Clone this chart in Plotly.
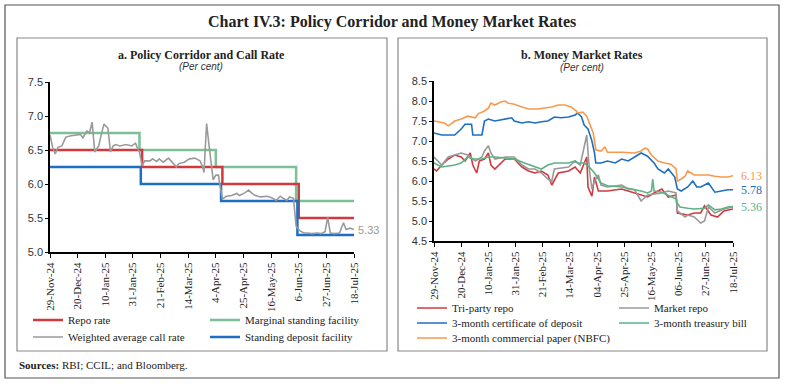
import plotly.graph_objects as go

W, H = 785, 386
def px(x): return x / W
def py(y): return 1 - y / H

SERIF = "Liberation Serif"
SANS = "Liberation Sans"

# ---------------- Data: panel a ----------------
repo_dates = ["2024-11-29", "2025-02-07", "2025-04-09", "2025-06-06", "2025-07-18"]
repo_vals = [6.50, 6.25, 6.00, 5.50, 5.50]
msf_dates = ["2024-11-29", "2025-02-05", "2025-04-04", "2025-06-04", "2025-07-18"]
msf_vals = [6.75, 6.50, 6.25, 5.75, 5.75]
sdf_dates = ["2024-11-29", "2025-02-06", "2025-04-08", "2025-06-05", "2025-07-18"]
sdf_vals = [6.25, 6.00, 5.75, 5.25, 5.25]

wacr_dates = ["2024-11-29", "2024-12-01", "2024-12-03", "2024-12-05", "2024-12-08", "2024-12-10",
              "2024-12-11", "2024-12-15", "2024-12-18", "2024-12-22", "2024-12-24", "2024-12-27",
              "2024-12-29", "2024-12-31", "2025-01-02", "2025-01-05", "2025-01-07", "2025-01-09",
              "2025-01-12", "2025-01-14", "2025-01-16", "2025-01-18", "2025-01-21", "2025-01-26",
              "2025-01-30", "2025-02-02", "2025-02-03", "2025-02-05", "2025-02-07", "2025-02-09",
              "2025-02-13", "2025-02-15", "2025-02-18", "2025-02-20", "2025-02-23", "2025-02-27",
              "2025-03-01", "2025-03-05", "2025-03-07", "2025-03-11", "2025-03-15", "2025-03-19",
              "2025-03-23", "2025-03-25", "2025-03-26", "2025-03-28", "2025-03-30", "2025-03-31",
              "2025-04-02", "2025-04-04", "2025-04-06", "2025-04-07", "2025-04-09", "2025-04-12",
              "2025-04-16", "2025-04-20", "2025-04-22", "2025-04-26", "2025-04-29", "2025-05-01",
              "2025-05-04", "2025-05-08", "2025-05-13", "2025-05-16", "2025-05-20", "2025-05-23",
              "2025-05-25", "2025-05-28", "2025-05-30", "2025-06-02", "2025-06-04", "2025-06-07",
              "2025-06-10", "2025-06-12", "2025-06-16", "2025-06-20", "2025-06-23", "2025-06-26",
              "2025-06-28", "2025-06-30", "2025-07-03", "2025-07-07", "2025-07-10", "2025-07-12",
              "2025-07-15", "2025-07-18"]
wacr_vals = [6.72, 6.54, 6.44, 6.54, 6.56, 6.64,
             6.69, 6.71, 6.72, 6.73, 6.68, 6.78,
             6.75, 6.91, 6.47, 6.56, 6.73, 6.88,
             6.82, 6.47, 6.56, 6.58, 6.56, 6.58,
             6.56, 6.60, 6.55, 6.47, 6.27, 6.34,
             6.34, 6.37, 6.33, 6.37, 6.32, 6.38,
             6.34, 6.25, 6.30, 6.32, 6.37, 6.38,
             6.34, 6.25, 6.17, 6.89, 6.54, 6.40,
             6.06, 6.13, 6.13, 6.00, 5.78, 5.82,
             5.83, 5.86, 5.83, 5.87, 5.91, 5.87,
             5.83, 5.81, 5.82, 5.80, 5.76, 5.82,
             5.79, 5.76, 5.81, 5.79, 5.38, 5.31,
             5.28, 5.28, 5.27, 5.28, 5.27, 5.30,
             5.51, 5.28, 5.27, 5.28, 5.43, 5.33,
             5.35, 5.33]

# ---------------- Data: panel b ----------------
cp_dates = ["2024-11-29", "2024-12-07", "2024-12-10", "2024-12-15", "2024-12-20", "2024-12-25",
            "2024-12-31", "2025-01-02", "2025-01-07", "2025-01-10", "2025-01-12", "2025-01-15",
            "2025-01-20", "2025-01-23", "2025-01-25", "2025-01-30", "2025-02-05", "2025-02-10",
            "2025-02-17", "2025-02-23", "2025-02-28", "2025-03-05", "2025-03-10", "2025-03-15",
            "2025-03-19", "2025-03-20", "2025-03-24", "2025-03-27", "2025-03-29", "2025-04-01",
            "2025-04-02", "2025-04-03", "2025-04-07", "2025-04-10", "2025-04-12", "2025-04-23",
            "2025-05-03", "2025-05-08", "2025-05-11", "2025-05-13", "2025-05-16", "2025-05-21",
            "2025-05-26", "2025-05-31", "2025-06-04", "2025-06-05", "2025-06-08", "2025-06-11",
            "2025-06-13", "2025-06-16", "2025-06-18", "2025-06-23", "2025-06-29", "2025-07-04",
            "2025-07-09", "2025-07-14", "2025-07-18"]
cp_vals = [7.50, 7.45, 7.38, 7.50, 7.55, 7.62,
           7.58, 7.68, 7.75, 7.82, 7.95, 7.90,
           7.98, 8.00, 7.95, 7.92, 7.85, 7.80,
           7.80, 7.82, 7.85, 7.90, 7.90, 7.85,
           7.75, 7.70, 7.72, 7.62, 7.45, 7.20,
           7.00, 6.78, 6.75, 6.85, 6.72, 6.72,
           6.70, 6.75, 6.82, 6.80, 6.65, 6.50,
           6.45, 6.42, 6.30, 6.00, 6.05, 6.12,
           6.25, 6.20, 6.15, 6.15, 6.15, 6.12,
           6.10, 6.10, 6.13]

cd_dates = ["2024-11-29", "2024-12-05", "2024-12-15", "2024-12-20", "2024-12-23", "2024-12-28",
            "2024-12-29", "2025-01-05", "2025-01-07", "2025-01-10", "2025-01-15", "2025-01-25",
            "2025-01-28", "2025-01-30", "2025-02-05", "2025-02-10", "2025-02-15", "2025-02-20",
            "2025-02-25", "2025-03-02", "2025-03-07", "2025-03-13", "2025-03-18", "2025-03-20",
            "2025-03-23", "2025-03-25", "2025-03-28", "2025-03-31", "2025-04-02", "2025-04-03",
            "2025-04-07", "2025-04-12", "2025-04-18", "2025-04-23", "2025-04-28", "2025-05-03",
            "2025-05-08", "2025-05-13", "2025-05-18", "2025-05-21", "2025-05-26", "2025-05-29",
            "2025-06-03", "2025-06-05", "2025-06-08", "2025-06-13", "2025-06-17", "2025-06-20",
            "2025-06-23", "2025-06-29", "2025-07-01", "2025-07-04", "2025-07-09", "2025-07-14",
            "2025-07-18"]
cd_vals = [7.20, 7.15, 7.15, 7.30, 7.42, 7.42,
           7.15, 7.15, 7.50, 7.55, 7.50, 7.55,
           7.58, 7.50, 7.45, 7.48, 7.45, 7.48,
           7.50, 7.60, 7.58, 7.60, 7.65, 7.70,
           7.60, 7.40, 7.30, 7.00, 6.70, 6.45,
           6.45, 6.50, 6.45, 6.55, 6.50, 6.60,
           6.70, 6.62, 6.45, 6.30, 6.20, 6.30,
           6.10, 5.80, 5.75, 5.85, 6.00, 5.85,
           5.85, 5.95, 5.85, 5.72, 5.75, 5.78,
           5.78]

tb_dates = ["2024-11-29", "2024-12-05", "2024-12-15", "2024-12-20", "2024-12-25", "2024-12-29",
            "2025-01-05", "2025-01-10", "2025-01-15", "2025-01-23", "2025-01-30", "2025-02-07",
            "2025-02-15", "2025-02-20", "2025-02-25", "2025-03-02", "2025-03-13", "2025-03-18",
            "2025-03-20", "2025-03-25", "2025-03-29", "2025-04-02", "2025-04-07", "2025-04-12",
            "2025-04-23", "2025-04-28", "2025-05-03", "2025-05-08", "2025-05-13", "2025-05-16",
            "2025-05-17", "2025-05-18", "2025-05-24", "2025-05-29", "2025-06-04", "2025-06-05",
            "2025-06-07", "2025-06-13", "2025-06-18", "2025-06-26", "2025-06-29", "2025-07-04",
            "2025-07-09", "2025-07-14", "2025-07-18"]
tb_vals = [6.45, 6.35, 6.40, 6.45, 6.60, 6.55,
           6.55, 6.60, 6.60, 6.58, 6.55, 6.45,
           6.35, 6.30, 6.40, 6.45, 6.45, 6.50,
           6.45, 6.45, 6.35, 6.20, 5.95, 5.88,
           5.85, 5.82, 5.78, 5.75, 5.70, 5.75,
           6.05, 5.75, 5.72, 5.65, 5.55, 5.45,
           5.35, 5.32, 5.30, 5.32, 5.40, 5.28,
           5.30, 5.35, 5.36]

tri_dates = ["2024-11-29", "2024-12-01", "2024-12-05", "2024-12-10", "2024-12-15", "2024-12-20",
             "2024-12-23", "2024-12-27", "2024-12-29", "2025-01-01", "2025-01-03", "2025-01-07",
             "2025-01-10", "2025-01-12", "2025-01-15", "2025-01-23", "2025-01-30", "2025-02-05",
             "2025-02-10", "2025-02-15", "2025-02-20", "2025-02-25", "2025-02-28", "2025-03-05",
             "2025-03-13", "2025-03-18", "2025-03-22", "2025-03-27", "2025-03-28", "2025-03-31",
             "2025-04-02", "2025-04-05", "2025-04-12", "2025-04-23", "2025-04-28", "2025-05-08",
             "2025-05-13", "2025-05-18", "2025-05-24", "2025-05-29", "2025-06-04", "2025-06-05",
             "2025-06-13", "2025-06-18", "2025-06-23", "2025-06-26", "2025-07-01", "2025-07-06",
             "2025-07-11", "2025-07-18"]
tri_vals = [6.30, 6.25, 6.40, 6.55, 6.65, 6.60,
            6.50, 6.70, 6.40, 6.20, 6.50, 6.55,
            6.70, 6.40, 6.30, 6.55, 6.55, 6.35,
            6.25, 6.20, 6.25, 6.15, 5.90, 6.20,
            6.25, 6.35, 6.20, 6.60, 5.85, 5.62,
            6.10, 5.75, 5.75, 5.80, 5.75, 5.65,
            5.60, 5.70, 5.80, 5.60, 5.65, 5.20,
            5.15, 5.20, 5.20, 5.38, 5.15, 5.10,
            5.25, 5.30]

mkt_dates = ["2024-11-29", "2024-12-05", "2024-12-10", "2024-12-15", "2024-12-20", "2024-12-25",
             "2024-12-31", "2025-01-05", "2025-01-07", "2025-01-10", "2025-01-12", "2025-01-15",
             "2025-01-23", "2025-01-30", "2025-02-05", "2025-02-10", "2025-02-15", "2025-02-20",
             "2025-02-25", "2025-02-28", "2025-03-02", "2025-03-13", "2025-03-18", "2025-03-22",
             "2025-03-27", "2025-03-29", "2025-03-31", "2025-04-02", "2025-04-05", "2025-04-07",
             "2025-04-12", "2025-04-23", "2025-04-28", "2025-05-03", "2025-05-08", "2025-05-13",
             "2025-05-24", "2025-05-29", "2025-06-04", "2025-06-05", "2025-06-11", "2025-06-13",
             "2025-06-18", "2025-06-23", "2025-06-26", "2025-06-29", "2025-07-04", "2025-07-11",
             "2025-07-18"]
mkt_vals = [6.60, 6.40, 6.60, 6.65, 6.70, 6.65,
            6.50, 6.60, 6.75, 6.88, 6.70, 6.55,
            6.60, 6.60, 6.40, 6.30, 6.30, 6.20,
            6.05, 6.00, 6.30, 6.35, 6.50, 6.40,
            7.15, 6.30, 5.80, 6.00, 6.15, 5.90,
            5.85, 5.90, 5.80, 5.78, 5.50, 5.65,
            5.70, 5.75, 5.70, 5.25, 5.10, 5.15,
            5.10, 4.95, 5.00, 5.35, 5.20, 5.30,
            5.35]

tick_dates = ["2024-11-29", "2024-12-20", "2025-01-10", "2025-01-31", "2025-02-21", "2025-03-14",
              "2025-04-04", "2025-04-25", "2025-05-16", "2025-06-06", "2025-06-27", "2025-07-18"]
ticks_a = ["29-Nov-24", "20-Dec-24", "10-Jan-25", "31-Jan-25", "21-Feb-25", "14-Mar-25",
           "4-Apr-25", "25-Apr-25", "16-May-25", "6-Jun-25", "27-Jun-25", "18-Jul-25"]
ticks_b = ["29-Nov-24", "20-Dec-24", "10-Jan-25", "31-Jan-25", "21-Feb-25", "14-Mar-25",
           "04-Apr-25", "25-Apr-25", "16-May-25", "06-Jun-25", "27-Jun-25", "18-Jul-25"]

RED = "#D2393F"
GREEN = "#7CC196"
BLUE = "#1E6FC2"
GRAY = "#9A9A9A"
ORANGE = "#F79A4E"
GREEN_B = "#5DB383"

fig = go.Figure()

# Panel a
fig.add_trace(go.Scatter(x=msf_dates, y=msf_vals, mode="lines", line_shape="hv",
                         line=dict(color=GREEN, width=2.5), name="Marginal standing facility",
                         xaxis="x", yaxis="y", legend="legend2"))
fig.add_trace(go.Scatter(x=repo_dates, y=repo_vals, mode="lines", line_shape="hv",
                         line=dict(color=RED, width=2.5), name="Repo rate",
                         xaxis="x", yaxis="y", legend="legend"))
fig.add_trace(go.Scatter(x=sdf_dates, y=sdf_vals, mode="lines", line_shape="hv",
                         line=dict(color=BLUE, width=2.5), name="Standing deposit facility",
                         xaxis="x", yaxis="y", legend="legend4"))
fig.add_trace(go.Scatter(x=wacr_dates, y=wacr_vals, mode="lines",
                         line=dict(color=GRAY, width=1.6), name="Weighted average call rate",
                         xaxis="x", yaxis="y", legend="legend3"))

# Panel b
fig.add_trace(go.Scatter(x=tri_dates, y=tri_vals, mode="lines",
                         line=dict(color=RED, width=1.6), name="Tri-party repo",
                         xaxis="x2", yaxis="y2", legend="legend5"))
fig.add_trace(go.Scatter(x=mkt_dates, y=mkt_vals, mode="lines",
                         line=dict(color=GRAY, width=1.6), name="Market repo",
                         xaxis="x2", yaxis="y2", legend="legend6"))
fig.add_trace(go.Scatter(x=tb_dates, y=tb_vals, mode="lines",
                         line=dict(color=GREEN_B, width=1.6), name="3-month treasury bill",
                         xaxis="x2", yaxis="y2", legend="legend8"))
fig.add_trace(go.Scatter(x=cd_dates, y=cd_vals, mode="lines",
                         line=dict(color=BLUE, width=1.6), name="3-month certificate of deposit",
                         xaxis="x2", yaxis="y2", legend="legend7"))
fig.add_trace(go.Scatter(x=cp_dates, y=cp_vals, mode="lines",
                         line=dict(color=ORANGE, width=1.6), name="3-month commercial paper (NBFC)",
                         xaxis="x2", yaxis="y2", legend="legend9"))

xcommon = dict(type="date", range=["2024-11-29", "2025-07-18"], showgrid=False, zeroline=False,
               showline=True, linecolor="black", linewidth=2, ticks="outside", ticklen=4,
               tickcolor="black", tickwidth=1, tickangle=-90, tickvals=tick_dates,
               automargin=False, tickfont=dict(family=SERIF, size=11, color="#222"))
ycommon = dict(showgrid=False, zeroline=False, showline=True, linecolor="black", linewidth=1.5,
               ticks="outside", ticklen=3, tickcolor="black", dtick=0.5, tickformat=".1f",
               automargin=False, tickfont=dict(family=SANS, size=11, color="#333"))

fig.update_layout(
    xaxis=dict(xcommon, domain=[px(50), px(354)], ticktext=ticks_a, anchor="y"),
    yaxis=dict(ycommon, domain=[py(252), py(82)], range=[5.0, 7.5], anchor="x"),
    xaxis2=dict(xcommon, domain=[px(434), px(733)], ticktext=ticks_b, anchor="y2"),
    yaxis2=dict(ycommon, domain=[py(241), py(81)], range=[4.5, 8.5], anchor="x2"),
)

leg = dict(orientation="h", xanchor="left", yanchor="middle", bgcolor="rgba(0,0,0,0)",
           font=dict(family=SERIF, size=11, color="#222"), itemwidth=30)
# one legend per entry, placed like the original's two-column key
leg_pos = {
    "legend": (28, 320), "legend2": (205, 320),
    "legend3": (28, 337), "legend4": (205, 337),
    "legend5": (412, 308), "legend6": (614, 308),
    "legend7": (412, 323), "legend8": (614, 323),
    "legend9": (412, 338),
}
fig.update_layout(showlegend=True,
                  **{k: dict(leg, x=px(v[0]), y=py(v[1])) for k, v in leg_pos.items()})

shapes = [
    dict(type="rect", xref="paper", yref="paper", x0=px(5), x1=px(779), y0=py(378), y1=py(5),
         line=dict(color="#555", width=1.2)),
    dict(type="rect", xref="paper", yref="paper", x0=px(17), x1=px(387), y0=py(351), y1=py(38),
         line=dict(color="#888", width=1.2)),
    dict(type="rect", xref="paper", yref="paper", x0=px(398), x1=px(767), y0=py(351), y1=py(38),
         line=dict(color="#888", width=1.2)),
]

annotations = [
    dict(text="<b>Chart IV.3: Policy Corridor and Money Market Rates</b>", x=px(392), y=py(22),
         xref="paper", yref="paper", showarrow=False, xanchor="center", yanchor="middle",
         font=dict(family=SERIF, size=16, color="#222")),
    dict(text="<b>a. Policy Corridor and Call Rate</b>", x=px(201), y=py(55),
         xref="paper", yref="paper", showarrow=False, xanchor="center", yanchor="middle",
         font=dict(family=SERIF, size=12, color="#222")),
    dict(text="<i>(Per cent)</i>", x=px(201), y=py(67), xref="paper", yref="paper",
         showarrow=False, xanchor="center", yanchor="middle",
         font=dict(family=SANS, size=10, color="#333")),
    dict(text="<b>b. Money Market Rates</b>", x=px(582), y=py(55),
         xref="paper", yref="paper", showarrow=False, xanchor="center", yanchor="middle",
         font=dict(family=SERIF, size=12, color="#222")),
    dict(text="<i>(Per cent)</i>", x=px(582), y=py(68), xref="paper", yref="paper",
         showarrow=False, xanchor="center", yanchor="middle",
         font=dict(family=SANS, size=10, color="#333")),
    dict(text="<b>Sources:</b> RBI; CCIL; and Bloomberg.", x=px(17), y=py(365),
         xref="paper", yref="paper", showarrow=False, xanchor="left", yanchor="middle",
         font=dict(family=SERIF, size=11, color="#222")),
    # end labels
    dict(text=f"{wacr_vals[-1]:.2f}", x=wacr_dates[-1], y=wacr_vals[-1], xref="x", yref="y",
         showarrow=False, xanchor="left", yanchor="middle", xshift=2,
         font=dict(family=SANS, size=11, color=GRAY)),
    dict(text=f"{cp_vals[-1]:.2f}", x=cp_dates[-1], y=cp_vals[-1], xref="x2", yref="y2",
         showarrow=False, xanchor="left", yanchor="middle", xshift=6,
         font=dict(family=SERIF, size=12, color=ORANGE)),
    dict(text=f"{cd_vals[-1]:.2f}", x=cd_dates[-1], y=cd_vals[-1], xref="x2", yref="y2",
         showarrow=False, xanchor="left", yanchor="middle", xshift=6,
         font=dict(family=SERIF, size=12, color=BLUE)),
    dict(text=f"{tb_vals[-1]:.2f}", x=tb_dates[-1], y=tb_vals[-1], xref="x2", yref="y2",
         showarrow=False, xanchor="left", yanchor="middle", xshift=6,
         font=dict(family=SERIF, size=12, color=GREEN_B)),
]

fig.update_layout(width=W, height=H, margin=dict(l=0, r=0, t=0, b=0),
                  paper_bgcolor="white", plot_bgcolor="white",
                  shapes=shapes, annotations=annotations, hovermode=False)

# remove the browser's default 8px page margin so the figure sits at the window origin
fig.write_html("out.html", config={"displayModeBar": False},
               post_script="document.body.style.margin='0';document.body.style.overflow='hidden';")
